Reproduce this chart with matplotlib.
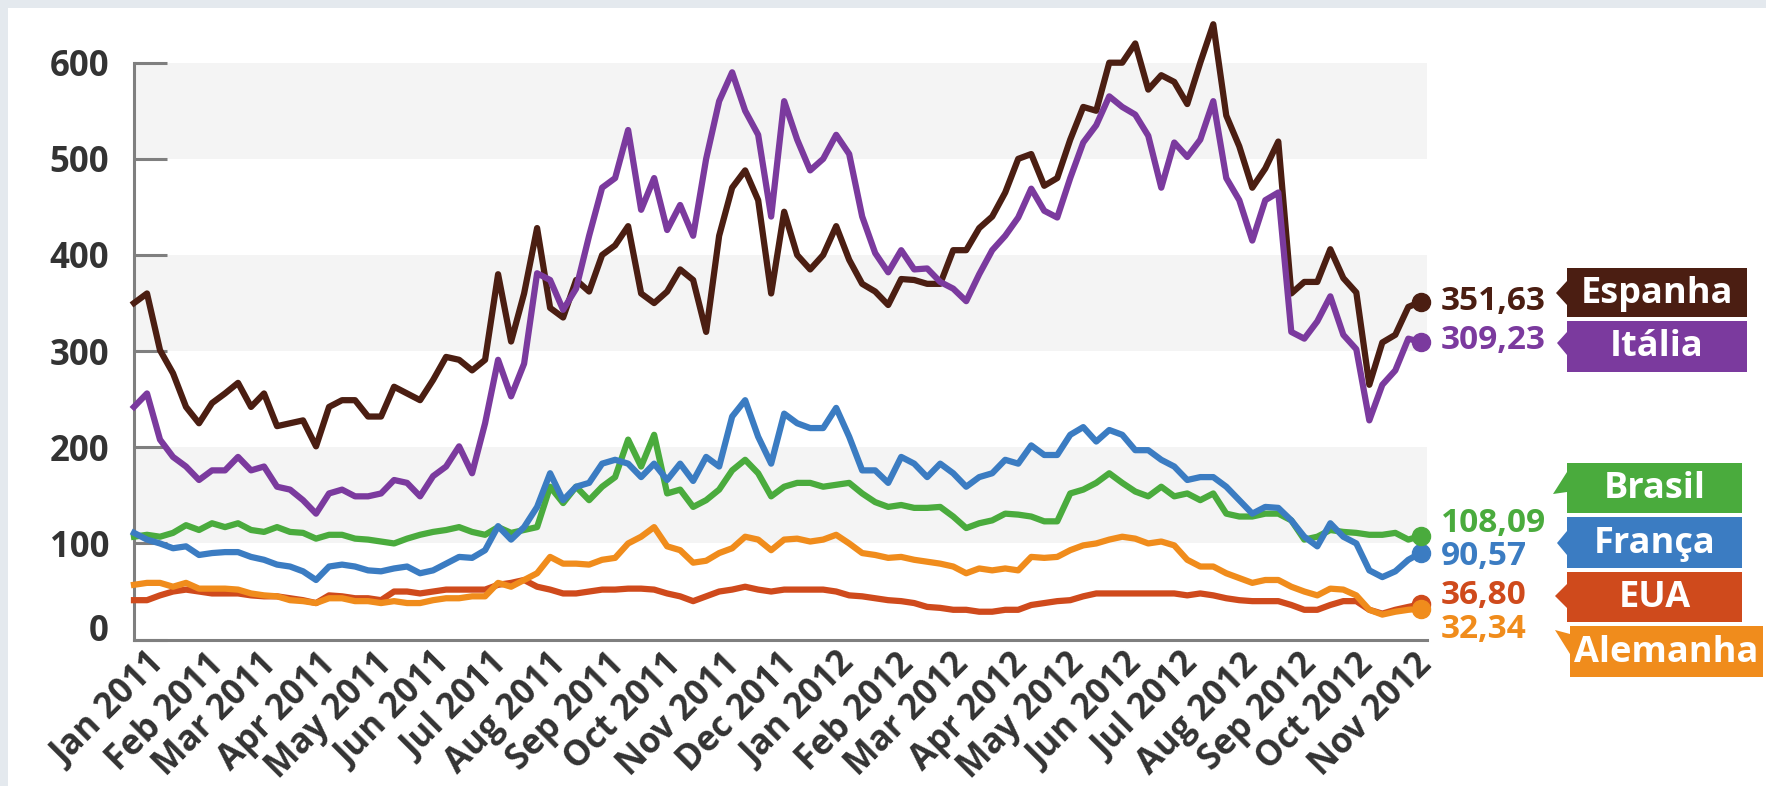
import numpy as np
import pandas as pd
import matplotlib
matplotlib.use('Agg')
from matplotlib import pyplot as plt
import matplotlib.dates as mdates
from matplotlib.patches import Rectangle, Polygon
from matplotlib.transforms import ScaledTranslation

plt.rcParams['font.family'] = ['Open Sans', 'DejaVu Sans']
plt.rcParams['font.weight'] = 'bold'

# roughly weekly samples, late Dec 2010 to early Nov 2012
dates = pd.date_range('2010-12-25', '2012-11-05', periods=100)

espanha = [350, 360, 301, 277, 242, 225, 246, 256, 267, 242, 256, 222, 225, 228, 201, 242, 249,
           249, 232, 232, 263, 256, 249, 270, 294, 291, 280, 291, 380, 310, 360, 428, 345, 335,
           374, 362, 400, 410, 430, 360, 350, 362, 385, 374, 320, 420, 470, 488, 457, 360, 445,
           400, 385, 400, 430, 395, 370, 362, 348, 375, 374, 370, 370, 405, 405, 428, 440,
           465, 500, 505, 472, 480, 520, 554, 550, 600, 600, 620, 572, 587, 580, 557, 600, 640,
           545, 513, 470, 490, 518, 360, 372, 372, 406, 376, 361, 265, 309, 317, 346, 351.63]
italia = [242, 256, 208, 190, 180, 166, 176, 176, 190, 176, 180, 159, 156, 145, 131, 152, 156,
          149, 149, 152, 166, 163, 149, 170, 180, 201, 173, 225, 291, 253, 287, 381, 374, 343,
          365, 420, 470, 480, 530, 447, 480, 426, 452, 420, 500, 560, 590, 550, 525, 440, 560,
          520, 488, 500, 525, 505, 440, 402, 382, 405, 385, 386, 372, 365, 352, 380, 405,
          420, 439, 469, 446, 439, 480, 517, 535, 565, 554, 546, 524, 470, 517, 502, 520, 560,
          480, 457, 415, 457, 465, 320, 313, 331, 357, 317, 302, 228, 265, 280, 313, 309.23]
brasil = [107, 109, 107, 111, 119, 114, 121, 117, 121, 114, 112, 117, 112, 111, 105, 109, 109,
          105, 104, 102, 100, 105, 109, 112, 114, 117, 112, 109, 117, 111, 114, 117, 159, 142,
          159, 145, 159, 169, 208, 180, 213, 152, 156, 138, 145, 156, 176, 187, 173, 149, 159,
          163, 163, 159, 161, 163, 152, 143, 138, 140, 137, 137, 138, 128, 116, 121, 124,
          131, 130, 128, 123, 123, 152, 156, 163, 173, 163, 154, 149, 159, 149, 152, 145, 152,
          131, 128, 128, 131, 131, 124, 104, 107, 114, 112, 111, 109, 109, 111, 104, 108.09]
franca = [111, 104, 100, 95, 97, 88, 90, 91, 91, 86, 83, 78, 76, 71, 62, 76, 78,
          76, 72, 71, 74, 76, 69, 72, 79, 86, 85, 93, 118, 104, 117, 138, 173, 145,
          159, 163, 183, 187, 183, 169, 183, 166, 183, 165, 190, 180, 232, 249, 211, 183, 235,
          225, 220, 220, 241, 211, 176, 176, 163, 190, 183, 169, 183, 173, 159, 169, 173,
          187, 183, 202, 192, 192, 213, 221, 206, 218, 213, 197, 197, 187, 180, 166, 169, 169,
          159, 145, 131, 138, 137, 124, 107, 97, 121, 107, 100, 72, 65, 71, 83, 90.57]
eua = [41, 41, 46, 50, 52, 50, 48, 48, 48, 46, 45, 45, 43, 41, 38, 46, 45,
       43, 43, 41, 50, 50, 48, 50, 52, 52, 52, 52, 57, 59, 62, 55, 52, 48,
       48, 50, 52, 52, 53, 53, 52, 48, 45, 40, 45, 50, 52, 55, 52, 50, 52,
       52, 52, 52, 50, 46, 45, 43, 41, 40, 38, 34, 33, 31, 31, 29, 29,
       31, 31, 36, 38, 40, 41, 45, 48, 48, 48, 48, 48, 48, 48, 46, 48, 46,
       43, 41, 40, 40, 40, 36, 31, 31, 36, 40, 40, 31, 27, 31, 34, 36.80]
alemanha = [57, 59, 59, 55, 59, 53, 53, 53, 52, 48, 46, 45, 41, 40, 38, 43, 43,
            40, 40, 38, 40, 38, 38, 41, 43, 43, 45, 45, 59, 55, 62, 69, 86, 79,
            79, 78, 83, 85, 100, 107, 117, 97, 93, 80, 82, 90, 95, 107, 104, 93, 104,
            105, 102, 104, 109, 100, 90, 88, 85, 86, 83, 81, 79, 76, 69, 74, 72,
            74, 72, 86, 85, 86, 93, 98, 100, 104, 107, 105, 100, 102, 98, 83, 76, 76,
            69, 64, 59, 62, 62, 55, 50, 46, 53, 52, 46, 31, 26, 29, 31, 32.34]

names = ['Espanha', 'Itália', 'Brasil', 'França', 'EUA', 'Alemanha']
series = [espanha, italia, brasil, franca, eua, alemanha]
colors = ['#4b1e12', '#7b3a9e', '#4aab3d', '#3b7cc2', '#cf4a1c', '#f08c1c']
draw_order = [1, 0, 3, 2, 4, 5]
label_y = [352, 311, 121, 86, 46, 11]

W, H = 1766, 786
fig = plt.figure(figsize=(W / 100, H / 100), dpi=100, facecolor='#e4e9ee')
fig.patches.append(Rectangle((8 / W, 0), 1, 1 - 8 / H, transform=fig.transFigure,
                             facecolor='white', edgecolor='none', zorder=-1))

ax = fig.add_axes([134 / W, (H - 639.6) / H, (1427 - 134) / W, (639.6 - 62.7) / H])
for lo in (100, 300, 500):
    ax.axhspan(lo, lo + 100, color='#f4f4f4', lw=0, zorder=0)

for i in draw_order:
    ax.plot(dates, series[i], color=colors[i], lw=4.5, solid_joinstyle='round',
            clip_on=False, zorder=3 + i * 0.1)
for i in draw_order:
    ax.plot(dates[-1], series[i][-1], 'o', ms=13, color=colors[i], clip_on=False, zorder=4)
    val = f'{series[i][-1]:.2f}'.replace('.', ',')
    ax.annotate(val, xy=(dates[-1], label_y[i]), xytext=(14, 0), textcoords='offset points',
                va='center', ha='left', color=colors[i], fontsize=24, fontweight='bold',
                annotation_clip=False)

ax.set_ylim(0, 600)
ax.set_xlim(dates[0], dates[-1] + pd.Timedelta(days=3))
ax.set_yticks(range(0, 601, 100))
ax.xaxis.set_major_locator(mdates.MonthLocator())
ax.xaxis.set_major_formatter(mdates.DateFormatter('%b %Y'))

for s in ('top', 'right'):
    ax.spines[s].set_visible(False)
for s in ('left', 'bottom'):
    ax.spines[s].set_color('#7f7f7f')
    ax.spines[s].set_linewidth(2.2)

ax.tick_params(axis='y', direction='in', length=24, width=2.2, color='#7f7f7f', pad=18,
               labelsize=25, labelcolor='#333333')
ax.tick_params(axis='x', length=0, pad=5, labelsize=25, labelcolor='#333333')
for lab in ax.get_xticklabels():
    lab.set_rotation(45)
    lab.set_ha('right')
    lab.set_rotation_mode('anchor')
    lab.set_fontweight('bold')
for lab in ax.get_yticklabels():
    lab.set_fontweight('bold')
zero = ax.yaxis.get_major_ticks()[0].label1
zero.set_transform(zero.get_transform() + ScaledTranslation(0, 9 / 72, fig.dpi_scale_trans))

# name boxes on the right, in pixel coordinates
boxes = [(1567, 268, 1747, 317), (1567, 321, 1747, 372), (1567, 463, 1742, 513),
         (1567, 517, 1742, 568), (1567, 572, 1742, 622), (1570, 626, 1763, 677)]
tips = [[(1567, 281), (1567, 305), (1556, 293)],
        [(1567, 332), (1567, 355), (1557, 343)],
        [(1567, 472), (1567, 492), (1553, 494)],
        [(1567, 531), (1567, 555), (1557, 543)],
        [(1567, 584), (1567, 608), (1555, 596)],
        [(1570, 634), (1570, 654), (1555, 630)]]


def fpt(x, y):
    return (x / W, 1 - y / H)


for i, name in enumerate(names):
    x0, y0, x1, y1 = boxes[i]
    fig.patches.append(Rectangle(fpt(x0, y1), (x1 - x0) / W, (y1 - y0) / H,
                                 transform=fig.transFigure, facecolor=colors[i],
                                 edgecolor='none', zorder=5))
    fig.patches.append(Polygon([fpt(*p) for p in tips[i]], closed=True,
                               transform=fig.transFigure, facecolor=colors[i],
                               edgecolor='none', zorder=5))
    fig.text(*fpt((x0 + x1) / 2, (y0 + y1) / 2 + 1), name, color='white', fontsize=26,
             fontweight='bold', ha='center', va='center', zorder=6)

fig.savefig('out.png', dpi=100, facecolor=fig.get_facecolor())
